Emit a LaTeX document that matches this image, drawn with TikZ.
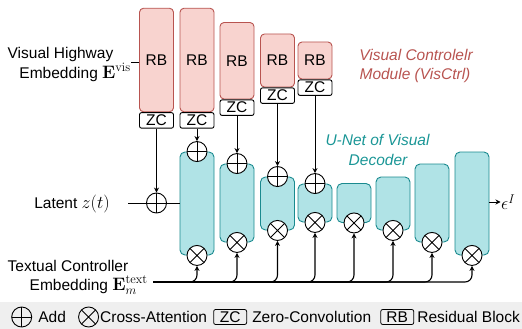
\RequirePackage{fix-cm}
\documentclass[tikz,border=0pt]{standalone}
\usepackage[no-math]{fontspec}
\setmainfont{Liberation Sans}
\usetikzlibrary{arrows.meta,positioning}
\definecolor{rbfill}{HTML}{F8D3CF}
\definecolor{rbline}{HTML}{B85450}
\definecolor{tfill}{HTML}{B0E3E6}
\definecolor{tline}{HTML}{1A8A8F}
\definecolor{ttext}{HTML}{1A9696}
\definecolor{lgbg}{HTML}{EFEFEF}
\newcommand{\mth}[1]{{\fontsize{18}{20}\selectfont$#1$}}
\tikzset{
  rbbox/.style={draw=rbline, fill=rbfill, line width=0.9pt, rounded corners=4pt, minimum width=34pt, inner sep=0pt},
  zcbox/.style={draw=black, fill=white, line width=0.9pt, rounded corners=2pt, minimum width=34pt, minimum height=15.5pt, inner sep=0pt},
  lgbox/.style={draw=black, line width=0.8pt, rounded corners=2pt, minimum width=33pt, minimum height=15pt, inner sep=0pt},
  ublock/.style={draw=tline, fill=tfill, line width=0.9pt, rounded corners=5pt, minimum width=34pt, inner sep=0pt},
  addop/.style={circle, draw, line width=0.9pt, minimum size=20pt, inner sep=0pt,
    path picture={\draw[line width=0.9pt] (path picture bounding box.north) -- (path picture bounding box.south)
      (path picture bounding box.west) -- (path picture bounding box.east);}},
  crossop/.style={circle, draw, line width=0.9pt, minimum size=20pt, inner sep=0pt,
    path picture={\draw[line width=0.9pt] (path picture bounding box.north west) -- (path picture bounding box.south east)
      (path picture bounding box.north east) -- (path picture bounding box.south west);}},
  textlbl/.style={inner sep=0pt},
  conn/.style={line width=0.9pt},
  arr/.style={line width=0.9pt, -{Stealth[length=5pt,width=5pt]}},
  busarr/.style={line width=1.1pt, rounded corners=7pt, -{Stealth[length=5pt,width=5pt]}},
  itred/.style={textlbl, anchor=base, text=rbline, font=\fontsize{15.5}{18}\selectfont\itshape},
  itteal/.style={textlbl, anchor=base, text=ttext, font=\fontsize{15.5}{18}\selectfont\itshape},
}
\begin{document}
\begin{tikzpicture}[x=1pt, y=-1pt, font=\fontsize{15.5}{18}\selectfont]
\useasboundingbox (0,0) rectangle (522,329);
% legend background
\fill[lgbg] (0,302) rectangle (522,329);

% Visual controller: residual blocks and zero convolutions
\node[rbbox, minimum height=103.5pt] (rb1) at (156.5,60) {RB};
\node[zcbox, anchor=north] (zc1) at (rb1.south) {ZC};
\node[rbbox, minimum height=103.5pt] (rb2) at (197,60) {RB};
\node[zcbox, anchor=north] (zc2) at (rb2.south) {ZC};
\node[rbbox, minimum height=76.5pt] (rb3) at (237,60.75) {RB};
\node[zcbox, anchor=north] (zc3) at (rb3.south) {ZC};
\node[rbbox, minimum height=53pt] (rb4) at (277.5,60.5) {RB};
\node[zcbox, anchor=north] (zc4) at (rb4.south) {ZC};
\node[rbbox, minimum height=37pt] (rb5) at (315,60.5) {RB};
\node[zcbox, anchor=north] (zc5) at (rb5.south) {ZC};

% U-Net blocks
\node[ublock, minimum height=103pt] (u1) at (197,203.5) {};
\node[ublock, minimum height=78pt] (u2) at (237,203) {};
\node[ublock, minimum height=53pt] (u3) at (277.5,203.5) {};
\node[ublock, minimum height=38pt] (u4) at (315,203) {};
\node[ublock, minimum height=39pt] (u5) at (354,203) {};
\node[ublock, minimum height=53pt] (u6) at (393,203.5) {};
\node[ublock, minimum height=78pt] (u7) at (432,203) {};
\node[ublock, minimum height=103pt] (u8) at (472,203.5) {};

% add operators
\node[addop, fill=white] (aL) at (156.5,203) {};
\node[addop, fill=white] (a1) at (u1.north) {};
\node[addop, fill=white] (a2) at (u2.north) {};
\node[addop, fill=white] (a3) at (u3.north) {};
\node[addop, fill=white] (a4) at (u4.north) {};

% cross-attention operators
\foreach \k in {1,...,8} {
  \node[crossop, fill=white] (c\k) at (u\k.south) {};
}

% labels
\node[textlbl, anchor=base] (vh1) at (60.5,59) {Visual Highway};
\node[textlbl, anchor=base east] (vh2) at (131,78) {Embedding \mth{\mathbf{E}^{\mathrm{vis}}}};
\coordinate (vh) at (131,62);
\draw[conn] (vh) -- (vh -| rb1.west);

\node[textlbl, anchor=base east] (lt) at (110,208) {Latent \mth{z(t)}};
\coordinate (lat) at (128,203);
\draw[conn] (lat) -- (aL.west);
\draw[conn] (aL.east) -- (aL.east -| u1.west);

\node[textlbl, anchor=base] (tc1) at (68,271) {Textual Controller};
\node[textlbl, anchor=base east] (tc2) at (148,290) {Embedding \mth{\mathbf{E}_m^{\mathrm{text}}}};

\node[itred] (vc1) at (416,60) {Visual Controlelr};
\node[itred] (vc2) at (415,80) {Module (VisCtrl)};
\node[itteal] (un1) at (377.5,145) {U-Net of Visual};
\node[itteal] (un2) at (378,165) {Decoder};

% connectors from zero convolutions
\draw[arr] (zc1.south) -- (aL.north);
\draw[arr] (zc2.south) -- (a1.north);
\draw[arr] (zc3.south) -- (a2.north);
\draw[arr] (zc4.south) -- (a3.north);
\draw[arr] (zc5.south) -- (a4.north);

% output
\node[inner sep=0.5pt, anchor=west] (eps) at (500.5,202) {\mth{\epsilon^{I}}};
\draw[arr] (u8.east |- eps.west) -- (eps.west);

% text embedding bus
\coordinate (bus) at (153,282);
\foreach \k in {1,...,8} {
  \draw[busarr] (bus) -| (c\k.south);
}

% legend
\node[addop] (lg1) at (21.7,317) {};
\node[textlbl, right=6pt of lg1] (lg2) {Add};
\node[crossop, right=12pt of lg2] (lg3) {};
\node[textlbl, right=1pt of lg3] (lg4) {Cross-Attention};
\node[lgbox, right=6pt of lg4] (lg5) {ZC};
\node[textlbl, right=5pt of lg5] (lg6) {Zero-Convolution};
\node[lgbox, right=9pt of lg6] (lg7) {RB};
\node[textlbl, right=3pt of lg7] (lg8) {Residual Block};
\end{tikzpicture}
\end{document}
